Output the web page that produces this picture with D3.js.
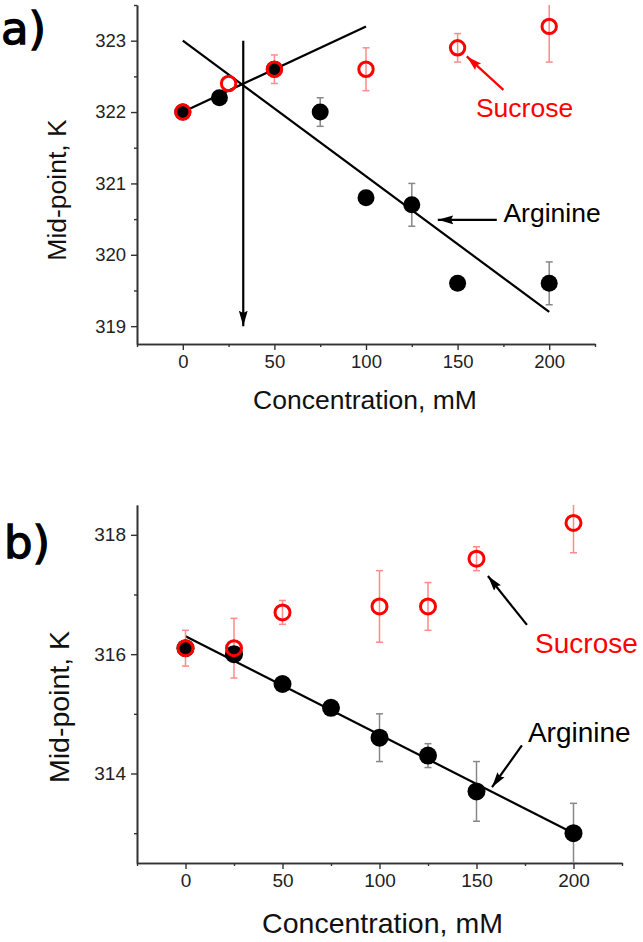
<!DOCTYPE html>
<html><head><meta charset="utf-8">
<script src="https://cdn.jsdelivr.net/npm/d3@7/dist/d3.min.js"></script>
<style>body{margin:0;background:#fff}svg{display:block}</style>
</head><body>
<script>
// ---- Panel a data ----
const concA_arg = [0, 20, 50, 75, 100, 125, 150, 200];
const midA_arg  = [322.0, 322.2, 322.6, 322.0, 320.8, 320.7, 319.6, 319.6];
const errA_arg  = [0, 0, 0, 0.2, 0, 0.3, 0, 0.3];
const concA_suc = [0, 25, 50, 100, 150, 200];
const midA_suc  = [322.0, 322.4, 322.6, 322.6, 322.9, 323.2];
const errA_suc  = [0, 0, 0.2, 0.3, 0.2, 0.5];
const fitA_rise_x = [0, 100], fitA_rise_y = [322.0, 323.2];
const fitA_fall_x = [0, 200], fitA_fall_y = [323.0, 319.2];
const crossA_x = [33, 33], crossA_y = [323.0, 319.0];
const yTicksA = [319, 320, 321, 322, 323];
const yMinorA = [319.5, 320.5, 321.5, 322.5, 323.5];

// ---- Panel b data ----
const concB_arg = [0, 25, 50, 75, 100, 125, 150, 200];
const midB_arg  = [316.1, 316.0, 315.5, 315.1, 314.6, 314.3, 313.7, 313.0];
const errB_arg  = [0, 0, 0, 0, 0.4, 0.2, 0.5, 0.5];
const concB_suc = [0, 25, 50, 100, 125, 150, 200];
const midB_suc  = [316.1, 316.1, 316.7, 316.8, 316.8, 317.6, 318.2];
const errB_suc  = [0.3, 0.5, 0.2, 0.6, 0.4, 0.2, 0.5];
const fitB_x = [0, 200], fitB_y = [316.3, 313.0];
const yTicksB = [314, 316, 318];
const yMinorB = [313, 315, 317];

const xTicks = [0, 50, 100, 150, 200];
const xMinor = [-25, 25, 75, 125, 175, 225];

const W = 643, H = 942;
const svg = d3.select("body").append("svg").attr("width", W).attr("height", H);
const defs = svg.append("defs");
["#000", "#f00"].forEach((c, i) => {
  defs.append("marker").attr("id", "ah" + i).attr("viewBox", "0 0 14 10")
    .attr("refX", 14).attr("refY", 5).attr("markerWidth", 7).attr("markerHeight", 5)
    .attr("markerUnits", "strokeWidth").attr("orient", "auto")
    .append("path").attr("d", "M0,1 L14,5 L0,9 L2,5 Z").attr("fill", c);
});

const FONT = "'Liberation Sans', Arial, sans-serif";

function panel(cfg) {
  const x = d3.scaleLinear().domain([-25, 225]).range(cfg.xr);
  const y = d3.scaleLinear().domain(cfg.yd).range(cfg.yr);
  const g = svg.append("g");
  const cid = "clip" + cfg.id;
  defs.append("clipPath").attr("id", cid).append("rect")
    .attr("x", cfg.xr[0] - 20).attr("y", cfg.yr[1]).attr("width", cfg.xr[1] - cfg.xr[0] + 40)
    .attr("height", cfg.yr[0] - cfg.yr[1]);

  const styleAxis = a => {
    a.select(".domain").attr("stroke", "#333").attr("stroke-width", 1.6);
    a.selectAll(".tick line").attr("stroke", "#333").attr("stroke-width", 1.4);
    a.selectAll("text").attr("font-family", FONT).attr("font-size", cfg.tf).attr("fill", "#222");
  };
  const bx = g.append("g").attr("transform", `translate(0,${cfg.yr[0]})`)
    .call(d3.axisBottom(x).tickValues(xTicks).tickSize(6).tickSizeOuter(0).tickPadding(5));
  styleAxis(bx);
  const bxm = g.append("g").attr("transform", `translate(0,${cfg.yr[0]})`)
    .call(d3.axisBottom(x).tickValues(xMinor).tickSize(3).tickFormat("").tickSizeOuter(0));
  styleAxis(bxm);
  const ly = g.append("g").attr("transform", `translate(${cfg.xr[0]},0)`)
    .call(d3.axisLeft(y).tickValues(cfg.yt).tickSize(6).tickSizeOuter(0).tickPadding(5).tickFormat(d3.format("d")));
  styleAxis(ly);
  const lym = g.append("g").attr("transform", `translate(${cfg.xr[0]},0)`)
    .call(d3.axisLeft(y).tickValues(cfg.ym).tickSize(3).tickFormat("").tickSizeOuter(0));
  styleAxis(lym);

  g.append("text").attr("x", (x(-25) + x(225)) / 2 + cfg.xtOff).attr("y", cfg.xtY)
    .attr("text-anchor", "middle").attr("font-family", FONT).attr("font-size", cfg.atf)
    .attr("fill", "#111").text("Concentration, mM");
  g.append("text").attr("transform", `translate(${cfg.ytX},${cfg.ytY}) rotate(-90)`)
    .attr("text-anchor", "middle").attr("font-family", FONT).attr("font-size", cfg.atf)
    .attr("fill", "#111").text("Mid-point, K");
  g.append("text").attr("x", cfg.lab[0]).attr("y", cfg.lab[1])
    .attr("font-family", "'DejaVu Sans', sans-serif").attr("font-size", 45)
    .attr("fill", "#000").attr("stroke", "#000").attr("stroke-width", 1.3).text(cfg.label);

  const line = d3.line().x(d => x(d[0])).y(d => y(d[1]));
  cfg.fits.forEach(f => {
    g.append("path").attr("d", line(d3.zip(f.x, f.y))).attr("fill", "none")
      .attr("stroke", "#000").attr("stroke-width", 2.2)
      .attr("marker-end", f.arrow ? "url(#ah0)" : null);
  });

  const eb = g.append("g").attr("clip-path", `url(#${cid})`);
  const drawErr = (xs, ys, es, col) => {
    xs.forEach((xv, i) => {
      if (!es[i]) return;
      const cx = x(xv), y1 = y(ys[i] + es[i]), y2 = y(ys[i] - es[i]);
      eb.append("line").attr("x1", cx).attr("x2", cx).attr("y1", y1).attr("y2", y2)
        .attr("stroke", col).attr("stroke-width", 1.5);
      [y1, y2].forEach(yy => eb.append("line").attr("x1", cx - 3.5).attr("x2", cx + 3.5)
        .attr("y1", yy).attr("y2", yy).attr("stroke", col).attr("stroke-width", 1.5));
    });
  };
  drawErr(cfg.arg.x, cfg.arg.y, cfg.arg.e, "#888");
  drawErr(cfg.suc.x, cfg.suc.y, cfg.suc.e, "#ff8a8a");

  g.selectAll(".arg").data(d3.zip(cfg.arg.x, cfg.arg.y)).join("circle")
    .attr("cx", d => x(d[0])).attr("cy", d => y(d[1])).attr("r", cfg.rb).attr("fill", "#000");
  g.selectAll(".suc").data(d3.zip(cfg.suc.x, cfg.suc.y)).join("circle")
    .attr("cx", d => x(d[0])).attr("cy", d => y(d[1])).attr("r", cfg.rr)
    .attr("fill", "none").attr("stroke", "#f00").attr("stroke-width", 3);

  cfg.notes.forEach(n => {
    g.append("text").attr("x", x(n.tx)).attr("y", y(n.ty)).attr("font-family", FONT)
      .attr("font-size", cfg.nf).attr("fill", n.col).text(n.text);
    g.append("line").attr("x1", x(n.ax[0])).attr("y1", y(n.ay[0]))
      .attr("x2", x(n.ax[1])).attr("y2", y(n.ay[1]))
      .attr("stroke", n.acol).attr("stroke-width", 2.2)
      .attr("marker-end", n.acol === "#f00" ? "url(#ah1)" : "url(#ah0)");
  });
}

panel({
  id: "a", label: "a)", lab: [1, 44],
  xr: [137, 595], yd: [318.75, 323.5], yr: [344, 5],
  yt: yTicksA, ym: yMinorA, tf: 18.5, atf: 26.5, nf: 26.5,
  xtOff: -1, xtY: 409, ytX: 66, ytY: 190,
  rb: 8.5, rr: 7.2,
  arg: {x: concA_arg, y: midA_arg, e: errA_arg},
  suc: {x: concA_suc, y: midA_suc, e: errA_suc},
  fits: [{x: fitA_rise_x, y: fitA_rise_y}, {x: fitA_fall_x, y: fitA_fall_y},
         {x: crossA_x, y: crossA_y, arrow: true}],
  notes: [
    {text: "Sucrose", col: "#f00", tx: 160, ty: 321.93, acol: "#f00", ax: [175, 155], ay: [322.31, 322.78]},
    {text: "Arginine", col: "#000", tx: 175, ty: 320.46, acol: "#000", ax: [171.4, 139.2], ay: [320.49, 320.49]}
  ]
});

panel({
  id: "b", label: "b)", lab: [4, 558],
  xr: [137, 622], yd: [312.5, 318.5], yr: [863, 505],
  yt: yTicksB, ym: yMinorB, tf: 19, atf: 28.5, nf: 28,
  xtOff: 3, xtY: 933, ytX: 69, ytY: 707,
  rb: 9, rr: 7.5,
  arg: {x: concB_arg, y: midB_arg, e: errB_arg},
  suc: {x: concB_suc, y: midB_suc, e: errB_suc},
  fits: [{x: fitB_x, y: fitB_y}],
  notes: [
    {text: "Sucrose", col: "#f00", tx: 180.2, ty: 316.02, acol: "#000", ax: [176, 155.9], ay: [316.49, 317.31]},
    {text: "Arginine", col: "#000", tx: 176.5, ty: 314.53, acol: "#000", ax: [173.4, 158], ay: [314.47, 313.77]}
  ]
});
</script>
</body></html>
